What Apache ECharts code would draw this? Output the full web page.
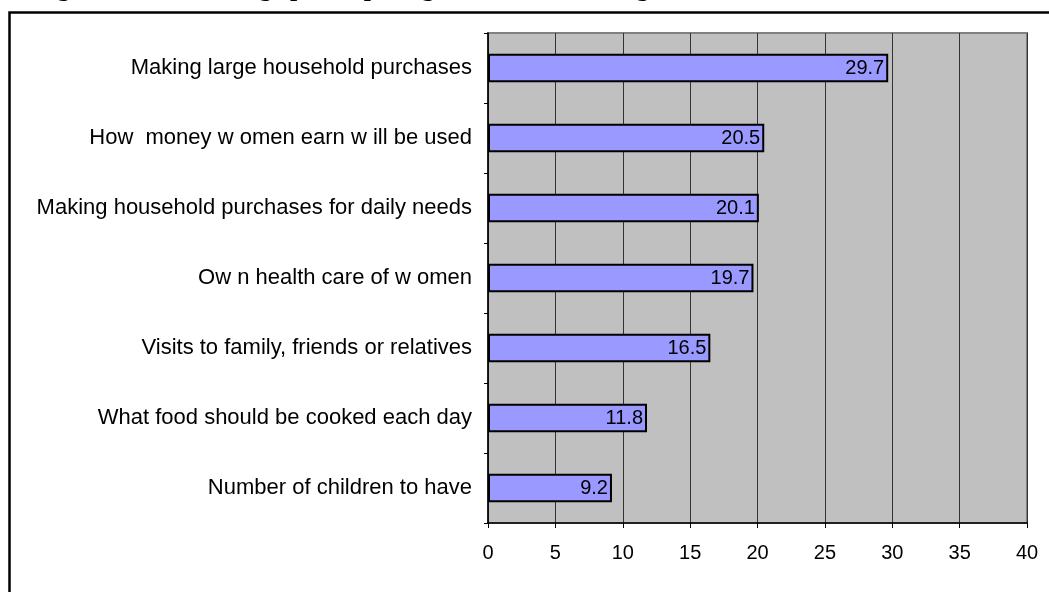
<!DOCTYPE html>
<html>
<head>
<meta charset="utf-8">
<script src="https://cdn.jsdelivr.net/npm/echarts@6/dist/echarts.min.js"></script>
<style>
  html, body { margin: 0; padding: 0; background: #fff; }
  #chart { width: 1049px; height: 592px; }
</style>
</head>
<body>
<div id="chart"></div>
<script>
// 决策类别（从上到下）
var categories = [
    'Making large household purchases',
    'How  money w omen earn w ill be used',
    'Making household purchases for daily needs',
    'Ow n health care of w omen',
    'Visits to family, friends or relatives',
    'What food should be cooked each day',
    'Number of children to have'
];
// 百分比
var values = [29.7, 20.5, 20.1, 19.7, 16.5, 11.8, 9.2];
var xTicks = [0, 5, 10, 15, 20, 25, 30, 35, 40];

var FONT = '"Liberation Sans", Arial, sans-serif';

var myChart = echarts.init(document.getElementById('chart'));
var options = {
    backgroundColor: '#ffffff',
    animation: false,
    // 外框 + 被裁掉的标题
    graphic: [
        {
            type: 'rect',
            shape: { x: 9.5, y: 12.5, width: 1200, height: 800 },
            style: { fill: 'none', stroke: '#000', lineWidth: 2.5 }
        },
        {
            type: 'text',
            x: 34,
            y: -23.5,
            style: {
                text: 'Figure 3.1: Percentage participating in decision making',
                font: 'bold 26px "Liberation Serif", "Times New Roman", serif',
                fill: '#000',
                verticalAlign: 'top'
            }
        }
    ],
    grid: {
        left: 488,
        right: 22,
        top: 33,
        bottom: 69,
        show: true,
        backgroundColor: '#C0C0C0',
        borderColor: '#808080',
        borderWidth: 2
    },
    xAxis: {
        type: 'value',
        min: xTicks[0],
        max: xTicks[xTicks.length - 1],
        interval: 5,
        axisLine: { show: true, lineStyle: { color: '#000', width: 1.5 } },
        axisTick: { show: true, length: 5, lineStyle: { color: '#000' } },
        axisLabel: {
            margin: 20,
            color: '#000',
            fontSize: 20,
            fontFamily: FONT
        },
        splitLine: { show: true, lineStyle: { color: '#333', width: 1 } }
    },
    yAxis: {
        type: 'category',
        inverse: true,
        data: categories,
        axisLine: { show: true, lineStyle: { color: '#000', width: 1.5 } },
        axisTick: { show: true, length: 4, lineStyle: { color: '#000' } },
        axisLabel: {
            margin: 16,
            color: '#000',
            fontSize: 22,
            fontFamily: FONT
        },
        splitLine: { show: false }
    },
    series: [{
        type: 'bar',
        data: values,
        barWidth: '41%',
        itemStyle: {
            color: '#9999FF',
            borderColor: '#000',
            borderWidth: 2
        },
        label: {
            show: true,
            position: 'insideRight',
            distance: 4,
            color: '#000',
            fontSize: 20,
            fontFamily: FONT,
            formatter: function (p) { return p.value.toFixed(1); }
        }
    }]
};
myChart.setOption(options, true);
</script>
</body>
</html>
